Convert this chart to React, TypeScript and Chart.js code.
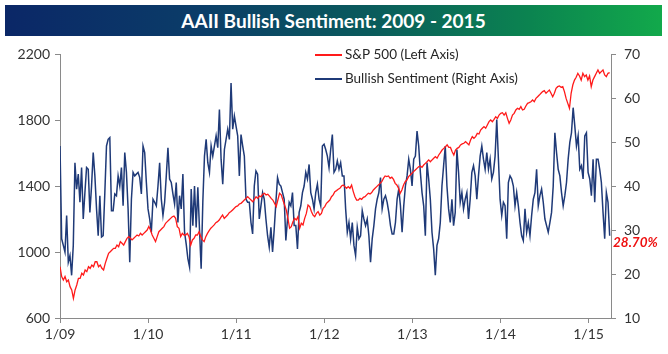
import React, { useEffect, useRef } from 'react';
import { Chart, registerables } from 'chart.js';

Chart.register(...registerables);

const titleText = 'AAII Bullish Sentiment: 2009 - 2015';
const spLabel = 'S&P 500 (Left Axis)';
const bullLabel = 'Bullish Sentiment (Right Axis)';
const lastBullLabel = '28.70%';

const firstWeek = 2009.0;
const lastWeek = 2015.24;
const yearTicks = [2009, 2010, 2011, 2012, 2013, 2014, 2015];
const leftTicks = { min: 600, max: 2200, step: 400 };
const rightTicks = { min: 10, max: 70, step: 10 };

// Weekly S&P 500 closes, Jan 2009 - Mar 2015
const sp500 = [
  911, 851, 830, 851, 820, 830, 790, 770, 719, 770,
  800, 840, 840, 871, 861, 891, 881, 911, 901, 921,
  911, 941, 941, 911, 921, 901, 891, 931, 962, 992,
  1002, 1012, 1022, 1022, 1042, 1032, 1063, 1053, 1042, 1063,
  1083, 1093, 1083, 1073, 1083, 1093, 1103, 1097, 1113, 1103,
  1113, 1123, 1133, 1154, 1133, 1103, 1083, 1063, 1093, 1123,
  1133, 1144, 1154, 1174, 1184, 1194, 1204, 1214, 1218, 1204,
  1154, 1144, 1093, 1113, 1103, 1103, 1113, 1093, 1042, 1073,
  1083, 1103, 1103, 1123, 1093, 1073, 1063, 1093, 1113, 1129,
  1144, 1154, 1164, 1178, 1184, 1194, 1210, 1224, 1204, 1214,
  1224, 1238, 1245, 1255, 1265, 1275, 1279, 1291, 1295, 1305,
  1315, 1325, 1335, 1325, 1315, 1305, 1319, 1335, 1325, 1339,
  1335, 1350, 1356, 1346, 1350, 1339, 1325, 1315, 1295, 1275,
  1315, 1356, 1346, 1315, 1285, 1255, 1204, 1144, 1154, 1184,
  1204, 1194, 1214, 1144, 1174, 1164, 1204, 1234, 1285, 1275,
  1245, 1224, 1214, 1234, 1245, 1224, 1234,
  1265, 1275, 1295, 1305, 1315, 1335, 1346, 1366, 1372, 1380,
  1386, 1400, 1406, 1396, 1386, 1396, 1386, 1406, 1366, 1335,
  1315, 1315, 1325, 1319, 1331, 1335, 1346, 1356, 1352, 1360,
  1376, 1386, 1396, 1406, 1416, 1426, 1446, 1461, 1457, 1461,
  1446, 1453, 1440, 1416, 1406, 1386, 1356, 1376, 1406, 1426,
  1436, 1457, 1467, 1477, 1487, 1497, 1507, 1517, 1521, 1513,
  1527, 1537, 1547, 1558, 1547, 1558, 1568, 1578, 1568, 1588,
  1602, 1618, 1628, 1638, 1649, 1634, 1634, 1608, 1588, 1618,
  1628, 1634, 1649, 1655, 1659, 1669, 1659, 1649, 1679, 1699,
  1689, 1699, 1719, 1715, 1739, 1750, 1760, 1750, 1770, 1790,
  1800, 1790, 1804, 1820, 1810, 1830, 1840, 1844, 1830, 1844,
  1810, 1780, 1800, 1830, 1840, 1861, 1871, 1865, 1881, 1861,
  1865, 1885, 1901, 1905, 1911, 1921, 1911, 1931, 1941, 1951,
  1962, 1972, 1978, 1962, 1972, 1982, 1962, 1941, 1962, 1992,
  2002, 2006, 1998,
  2002, 1972, 1931, 1901, 1871, 1962, 2012, 2042, 2059, 2083,
  2067, 2042, 2083, 2063, 2073, 2042, 2067, 2002, 2042, 2063,
  2083, 2103, 2083, 2093, 2103, 2073, 2063, 2083, 2087,
];

// Weekly AAII bullish sentiment (%), Jan 2009 - Mar 2015
const bullish = [
  49.1, 28.0, 26.5, 25.0, 33.3, 22.7, 24.2, 19.7, 26.5, 45.3,
  39.3, 42.7, 36.3, 44.2, 32.5, 38.5, 44.2, 43.8, 34.0, 40.0,
  47.6, 42.3, 34.8, 28.7, 37.8, 28.4, 28.7, 38.5, 49.1, 50.6,
  51.0, 34.4, 34.4, 38.2, 37.8, 42.3, 40.0, 44.2, 35.5, 47.6,
  43.1, 34.8, 22.7, 37.0, 43.1, 42.3, 42.7, 43.1, 41.9, 38.2,
  49.1, 47.6, 40.8, 34.8, 32.5, 29.5, 37.0, 36.3, 35.5, 40.0,
  45.3, 37.0, 33.3, 36.3, 42.3, 48.7, 41.6, 40.8, 38.2, 35.9,
  40.8, 31.7, 37.8, 34.8, 42.7, 29.5, 26.8, 23.5, 21.6, 39.3,
  31.0, 40.0, 30.6, 39.7, 30.2, 21.2, 36.3, 46.8, 50.6, 45.3,
  43.1, 49.1, 46.8, 49.1, 51.4, 48.7, 57.4, 46.1, 40.4, 48.3,
  50.6, 52.9, 50.6, 63.4, 52.9, 55.9, 53.6, 51.4, 42.3, 51.7,
  49.1, 46.8, 37.0, 36.3, 36.3, 31.7, 29.1, 40.0, 43.4, 42.7,
  32.5, 35.5, 38.5, 37.0, 32.5, 28.7, 26.1, 30.6, 25.0, 30.2,
  36.3, 41.9, 40.4, 40.0, 38.5, 37.0, 27.6, 32.5, 36.3, 35.5,
  38.5, 31.0, 31.0, 25.7, 34.0, 35.5, 38.5, 40.0, 43.1, 41.6,
  44.9, 38.5, 37.0, 34.8, 38.5, 40.4, 37.0,
  35.5, 49.1, 49.5, 48.3, 46.8, 44.2, 48.3, 51.7, 43.1, 43.8,
  45.7, 43.8, 45.3, 42.3, 42.3, 34.8, 29.5, 31.7, 28.0, 31.7,
  26.5, 24.2, 30.6, 28.0, 28.7, 34.4, 32.5, 31.0, 32.5, 28.7,
  22.7, 28.0, 31.0, 34.8, 37.0, 38.5, 41.9, 34.8, 37.0, 37.8,
  36.3, 34.0, 31.0, 29.1, 29.1, 31.7, 37.0, 39.3, 35.5, 29.5,
  35.5, 40.0, 42.3, 46.1, 43.8, 40.0, 46.1, 46.8, 52.5, 49.1,
  43.1, 38.5, 35.5, 28.7, 45.3, 41.6, 37.0, 29.5, 25.7, 19.7,
  26.5, 28.0, 31.7, 40.0, 44.6, 49.1, 40.0, 34.8, 31.7, 37.0,
  31.0, 34.0, 48.3, 43.1, 36.3, 38.5, 34.8, 37.0, 38.5, 32.5,
  37.0, 43.1, 44.6, 42.3, 37.0, 42.3, 46.8, 49.1, 46.1, 43.8,
  47.6, 43.8, 46.1, 41.6, 43.1, 46.8, 55.1, 46.1, 37.0, 33.3,
  36.3, 35.5, 28.0, 40.8, 42.3, 41.6, 40.0, 35.5, 38.5, 35.5,
  31.7, 28.7, 27.6, 34.8, 29.5, 31.7, 28.7, 33.3, 37.0, 38.5,
  43.8, 35.5, 37.8, 39.3, 36.3, 32.5, 31.0, 29.5, 31.7, 34.0,
  40.0, 52.1, 47.6, 43.8,
  42.3, 38.5, 35.5, 37.8, 40.8, 46.1, 49.9, 52.1, 57.8, 53.6,
  49.1, 51.4, 43.8, 44.6, 41.6, 51.4, 52.1, 43.1, 41.6, 37.8,
  46.1, 36.3, 46.1, 46.1, 43.8,
  40.8, 34.0, 28.0, 38.5, 36.3, 28.7,
];

const RED = '#ff1a1a';
const BLUE = '#1f3a78';
const FONT = 'Lato, "Open Sans", sans-serif';

function weekly(values: number[]) {
  const step = (lastWeek - firstWeek) / (values.length - 1);
  return values.map((v, i) => ({ x: firstWeek + i * step, y: v }));
}

const overlayPlugin = {
  id: 'overlayLegend',
  afterDatasetsDraw(chart: any) {
    const { ctx, chartArea, scales } = chart;
    ctx.save();
    ctx.font = `13.5px ${FONT}`;
    ctx.textBaseline = 'middle';
    ctx.textAlign = 'left';
    const lx = chartArea.left + 255;
    const rows = [
      { y: chartArea.top + 1, color: RED, text: spLabel },
      { y: chartArea.top + 25, color: BLUE, text: bullLabel },
    ];
    rows.forEach((r) => {
      ctx.strokeStyle = r.color;
      ctx.lineWidth = 2;
      ctx.beginPath();
      ctx.moveTo(lx, r.y);
      ctx.lineTo(lx + 27, r.y);
      ctx.stroke();
      ctx.fillStyle = '#262626';
      ctx.fillText(r.text, lx + 30, r.y);
    });
    const last = bullish[bullish.length - 1];
    const ly = scales.yR.getPixelForValue(last) + 7;
    ctx.font = `italic bold 13.5px ${FONT}`;
    ctx.fillStyle = '#ee1111';
    ctx.fillText(lastBullLabel, chartArea.right + 2, ly);
    ctx.restore();
  },
};

export default function App() {
  const canvasRef = useRef<HTMLCanvasElement | null>(null);

  useEffect(() => {
    const canvas = canvasRef.current;
    if (!canvas) return;
    const tickFont = { family: FONT, size: 14 };
    const plain = (v: any) => String(v);
    const chart = new Chart(canvas, {
      type: 'line',
      data: {
        datasets: [
          {
            label: spLabel,
            data: weekly(sp500),
            yAxisID: 'y',
            borderColor: RED,
            borderWidth: 1.3,
            pointRadius: 0,
            tension: 0,
            order: 0,
          },
          {
            label: bullLabel,
            data: weekly(bullish),
            yAxisID: 'yR',
            borderColor: BLUE,
            borderWidth: 1.5,
            pointRadius: 0,
            tension: 0,
            order: 1,
          },
        ],
      },
      options: {
        animation: false,
        responsive: false,
        devicePixelRatio: 1,
        layout: { padding: { top: 54, left: 0, right: 0, bottom: 0 } },
        plugins: { legend: { display: false }, tooltip: { enabled: false }, title: { display: false } },
        scales: {
          x: {
            type: 'linear',
            min: firstWeek,
            max: 2015.255,
            afterBuildTicks: (axis: any) => {
              axis.ticks = yearTicks.map((v) => ({ value: v }));
            },
            afterFit: (s: any) => {
              s.height = 36;
            },
            grid: { drawOnChartArea: false, drawTicks: true, tickLength: 5, color: '#8a8a8a' },
            border: { display: true, color: '#8a8a8a' },
            ticks: {
              autoSkip: false,
              maxRotation: 0,
              padding: 3,
              color: '#333',
              font: tickFont,
              callback: (v: any) => '1/' + String(v).slice(2, 4),
            },
          },
          y: {
            position: 'left',
            min: leftTicks.min,
            max: leftTicks.max,
            afterFit: (s: any) => {
              s.width = 60;
            },
            grid: { drawOnChartArea: false, drawTicks: true, tickLength: 5, color: '#8a8a8a' },
            border: { display: true, color: '#8a8a8a' },
            ticks: { stepSize: leftTicks.step, padding: 5, color: '#333', font: tickFont, callback: plain },
          },
          yR: {
            position: 'right',
            min: rightTicks.min,
            max: rightTicks.max,
            afterFit: (s: any) => {
              s.width = 57;
            },
            grid: { drawOnChartArea: false, drawTicks: true, tickLength: 5, color: '#8a8a8a' },
            border: { display: true, color: '#8a8a8a' },
            ticks: { stepSize: rightTicks.step, padding: 8, color: '#333', font: tickFont, callback: plain },
          },
        },
      },
      plugins: [overlayPlugin],
    } as any);
    return () => chart.destroy();
  }, []);

  return (
    <div style={{ position: 'absolute', left: 0, top: 0, width: 668, height: 354, background: '#fff', overflow: 'hidden' }}>
      <canvas ref={canvasRef} width={668} height={354} style={{ position: 'absolute', left: 0, top: 0, width: 668, height: 354 }} />
      <div
        style={{
          position: 'absolute',
          left: 5,
          top: 5,
          width: 657,
          height: 31,
          background: 'linear-gradient(to right, #0b2767 0%, #0b3d68 30%, #0a5a5c 55%, #0b8450 80%, #12a94b 100%)',
          color: '#fff',
          fontFamily: FONT,
          fontWeight: 700,
          fontSize: 19,
          lineHeight: '31px',
          textAlign: 'center',
        }}
      >
        {titleText}
      </div>
    </div>
  );
}
